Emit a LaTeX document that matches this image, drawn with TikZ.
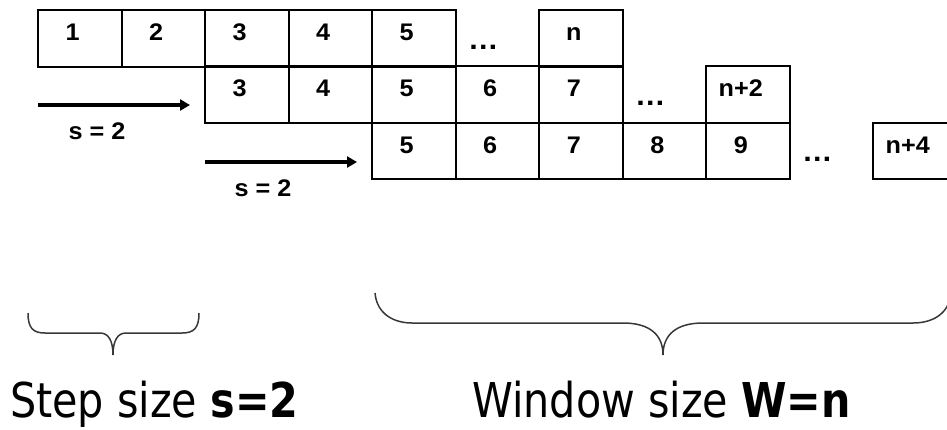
\documentclass[tikz,border=0pt]{standalone}
\usepackage{fontspec}
\setmainfont{Liberation Sans}
\newfontfamily\cellfont[FakeStretch=1.05]{Liberation Sans}
\newfontfamily\capfont[FakeStretch=0.86]{DejaVu Sans}
\usetikzlibrary{arrows.meta}

\begin{document}
\begin{tikzpicture}[x=1pt,y=-1pt,
  cell/.style={draw, line width=2pt, minimum width=83.5pt, minimum height=56.5pt, inner sep=0pt},
  num/.style={anchor=base, inner sep=0pt, font=\cellfont\fontsize{24}{24}\selectfont\bfseries},
  gap/.style={anchor=base, inner sep=0pt, font=\cellfont\fontsize{29}{29}\selectfont\bfseries},
  stride/.style={line width=4pt, -{Triangle[length=10pt,width=11pt]}},
  slabel/.style={anchor=base, inner sep=0pt, font=\cellfont\fontsize{24}{24}\selectfont\bfseries},
  brace/.style={draw=black!78, line width=1.5pt},
  caption/.style={anchor=base west, inner sep=0pt, font=\capfont\fontsize{48}{48}\selectfont}
]
\useasboundingbox (0,0) rectangle (947,429);
\clip (0,0) rectangle (947,429);

% first window
\foreach \i/\t in {0/1,1/2,2/3,3/4,4/5,6/n} {
  \node[cell] (r1c\i) at ({79.75+83.5*\i},38.25) {};
  \node[num] (r1t\i) at ([shift={(-7,2.25)}]r1c\i.center) {\t};
}
\node[gap] (r1gap) at (483.25,49) {…};

% second window
\foreach \i/\t in {2/3,3/4,4/5,5/6,6/7,8/n+2} {
  \node[cell] (r2c\i) at ({79.75+83.5*\i},94.25) {};
  \node[num] (r2t\i) at ([shift={(-7,2.25)}]r2c\i.center) {\t};
}
\node[gap] (r2gap) at (650.25,105) {…};

% third window
\foreach \i/\t in {4/5,5/6,6/7,7/8,8/9,10/n+4} {
  \node[cell] (r3c\i) at ({79.75+83.5*\i},150.75) {};
  \node[num] (r3t\i) at ([shift={(-7,2.25)}]r3c\i.center) {\t};
}
\node[gap] (r3gap) at (817.25,161.5) {…};

% step arrows
\coordinate (s1a) at (38,105);
\coordinate (s1b) at (190,105);
\draw[stride] (s1a) -- (s1b);
\node[slabel] (s1t) at (97,139) {s = 2};

\coordinate (s2a) at (205,162);
\coordinate (s2b) at (357,162);
\draw[stride] (s2a) -- (s2b);
\node[slabel] (s2t) at (263,196) {s = 2};

% braces
\draw[brace] (28,313) .. controls (28,328) and (33,333) .. (45,333) -- (100,333)
  .. controls (108,333) and (113,340) .. (113,355)
  .. controls (113,340) and (118,333) .. (126,333) -- (182,333)
  .. controls (194,333) and (199,328) .. (199,313);
\draw[brace] (375,293) .. controls (377,315) and (395,323) .. (412,323) -- (623,323)
  .. controls (650,323) and (663,335) .. (663,355)
  .. controls (663,335) and (676,323) .. (703,323) -- (913,323)
  .. controls (931,323) and (949,315) .. (951,293);

% captions
\node[caption] (stepcap) at (10,417) {Step size \textbf{s=2}};
\node[caption] (wincap) at (472,417) {Window size \textbf{W=n}};
\end{tikzpicture}
\end{document}
